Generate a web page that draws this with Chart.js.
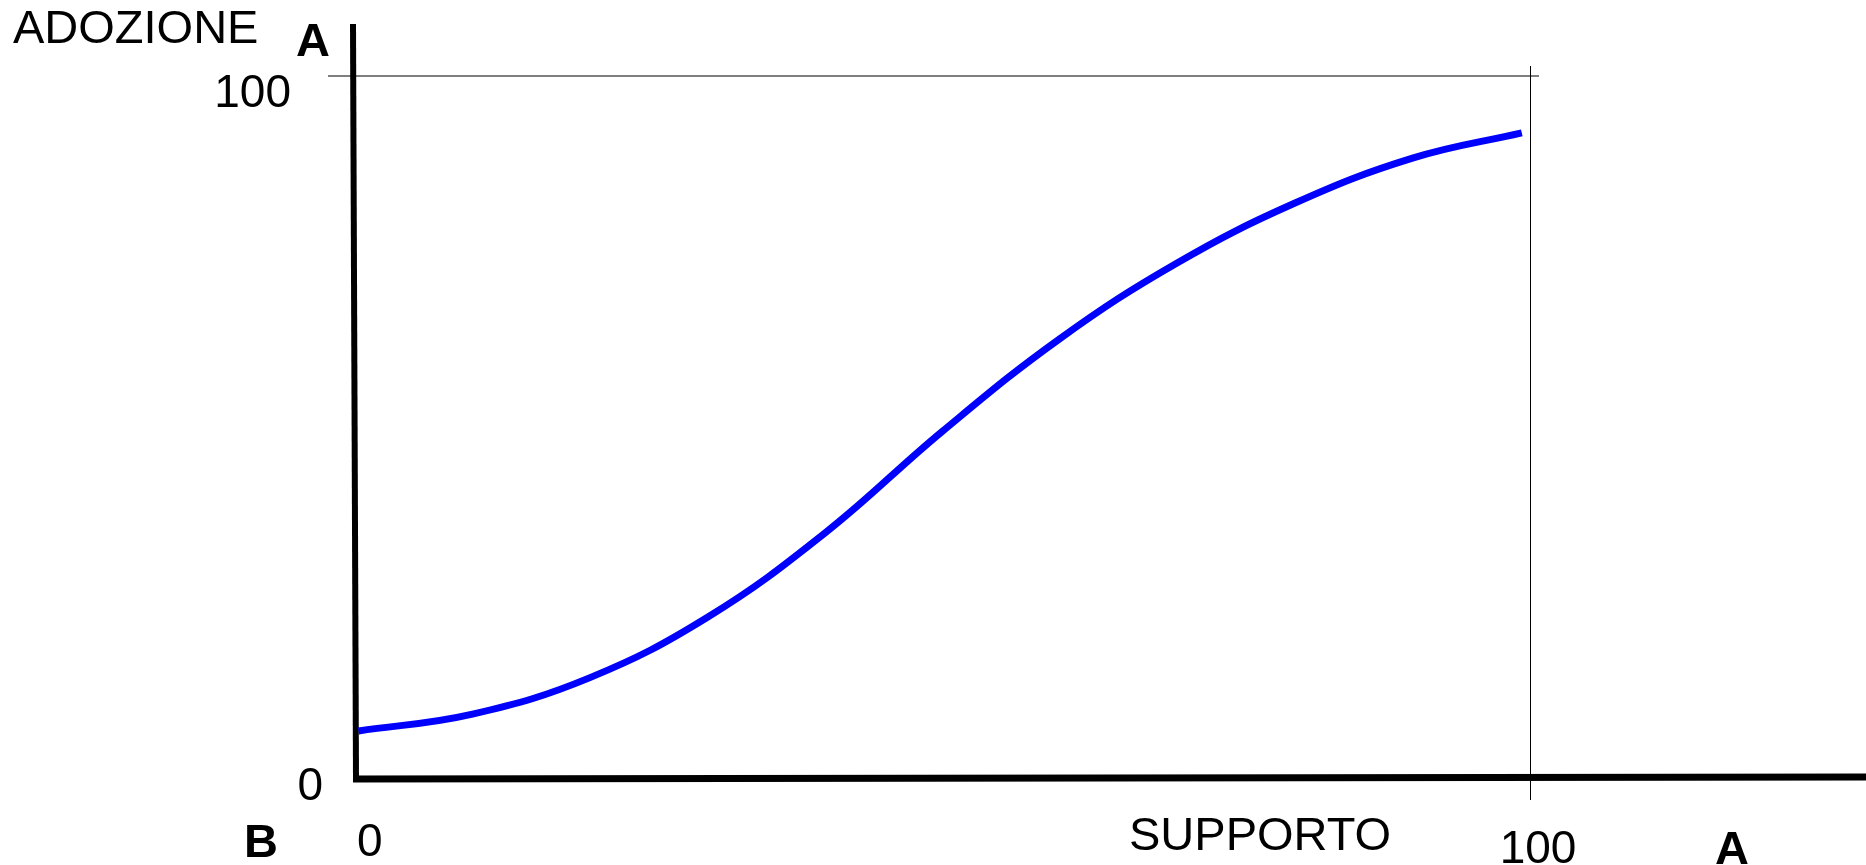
<!DOCTYPE html>
<html>
<head>
<meta charset="utf-8">
<script src="https://cdn.jsdelivr.net/npm/chart.js@4"></script>
<style>
    html, body { margin: 0; padding: 0; background: #fff; overflow: hidden; }
    #wrap { width: 1866px; height: 865px; position: relative; }
</style>
</head>
<body>
<div id="wrap"><canvas id="lineChart"></canvas></div>
<script>
// Dati (supporto -> adozione)
const supporto = [0.3, 10, 20, 30, 40, 50, 60, 70, 80, 90, 99.3];
const adozione = [6.7, 9.1, 14.3, 22.9, 34.9, 49.4, 62.6, 73.4, 81.9, 88.3, 91.9];
const tickX = [0, 100];
const tickY = [0, 100];

const FONT = '"Liberation Sans", Arial, sans-serif';

// Plugin per disegnare assi, linee di riferimento ed etichette
const axesPlugin = {
    id: 'axesPlugin',
    beforeDatasetsDraw(chart) {
        const ctx = chart.ctx;
        const x = chart.scales.x;
        const y = chart.scales.y;
        const x0 = x.getPixelForValue(tickX[0]);
        const x1 = x.getPixelForValue(tickX[1]);
        const y0 = y.getPixelForValue(tickY[0]);
        const y1 = y.getPixelForValue(tickY[1]);
        ctx.save();

        // linea orizzontale a 100
        ctx.strokeStyle = '#555';
        ctx.lineWidth = 1.5;
        ctx.beginPath();
        ctx.moveTo(x0 - 27, y1);
        ctx.lineTo(x1 + 9, y1);
        ctx.stroke();

        // linea verticale a 100
        ctx.strokeStyle = '#000';
        ctx.lineWidth = 1;
        ctx.beginPath();
        ctx.moveTo(x1 + 0.5, y1 - 10);
        ctx.lineTo(x1 + 0.5, y0 + 22);
        ctx.stroke();

        // asse Y
        ctx.lineWidth = 6;
        ctx.beginPath();
        ctx.moveTo(x0 - 2, y1 - 52);
        ctx.lineTo(x0 + 1, y0 + 2);
        ctx.stroke();

        // asse X
        ctx.lineWidth = 7;
        ctx.beginPath();
        ctx.moveTo(x0 - 2, y0 + 1);
        ctx.lineTo(chart.width, y0 - 1);
        ctx.stroke();

        ctx.restore();
    },
    afterDraw(chart) {
        const ctx = chart.ctx;
        const x = chart.scales.x;
        const y = chart.scales.y;
        const x0 = x.getPixelForValue(tickX[0]);
        const x1 = x.getPixelForValue(tickX[1]);
        const y0 = y.getPixelForValue(tickY[0]);
        const y1 = y.getPixelForValue(tickY[1]);
        ctx.save();
        ctx.fillStyle = '#000';
        ctx.textBaseline = 'alphabetic';

        // tick asse Y
        ctx.font = '46px ' + FONT;
        ctx.textAlign = 'right';
        ctx.fillText(String(tickY[1]), x0 - 64, y1 + 31);
        ctx.fillText(String(tickY[0]), x0 - 32, y0 + 22);

        // tick asse X
        ctx.textAlign = 'left';
        ctx.fillText(String(tickX[0]), x0 + 2, y0 + 78);
        ctx.textAlign = 'center';
        ctx.fillText(String(tickX[1]), x1 + 8, y0 + 85);

        // titoli degli assi
        ctx.font = '47px ' + FONT;
        ctx.textAlign = 'left';
        ctx.fillText('ADOZIONE', 13, 43);
        ctx.fillText('SUPPORTO', 1129, 850);

        // lettere in grassetto
        ctx.font = 'bold 47px ' + FONT;
        ctx.fillText('A', 296, 56);
        ctx.fillText('B', 244, 857);
        ctx.fillText('A', 1715, 864);

        ctx.restore();
    }
};

const ctx = document.getElementById('lineChart').getContext('2d');
new Chart(ctx, {
    type: 'line',
    data: {
        datasets: [{
            label: 'Adozione',
            data: supporto.map((v, i) => ({ x: v, y: adozione[i] })),
            borderColor: '#0000ff',
            borderWidth: 7,
            pointRadius: 0,
            fill: false,
            tension: 0.4,
            borderCapStyle: 'butt'
        }]
    },
    options: {
        responsive: true,
        maintainAspectRatio: false,
        animation: false,
        layout: {
            padding: { left: 355, right: 336, top: 76, bottom: 87 }
        },
        plugins: {
            legend: { display: false },
            tooltip: { enabled: false },
            title: { display: false }
        },
        scales: {
            x: { type: 'linear', min: 0, max: 100, display: false },
            y: { type: 'linear', min: 0, max: 100, display: false }
        }
    },
    plugins: [axesPlugin]
});
</script>
</body>
</html>
